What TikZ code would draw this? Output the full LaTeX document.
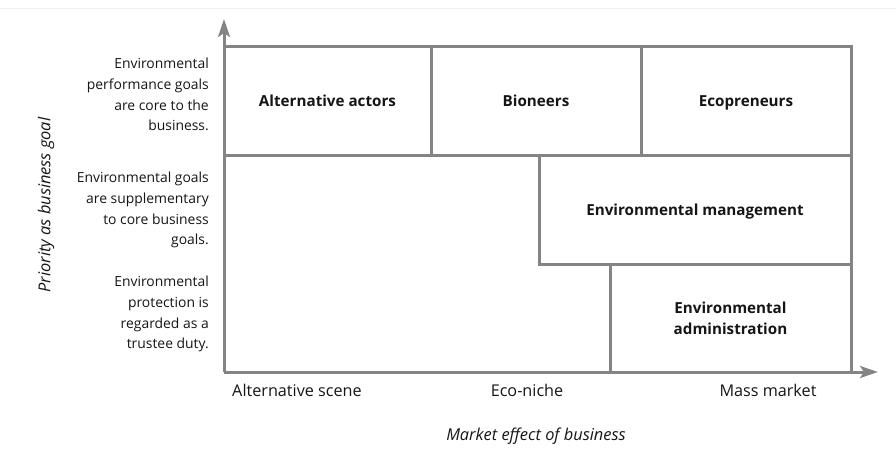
\documentclass[tikz,border=0pt]{standalone}
\usepackage{fontspec}
\setmainfont{Open Sans}
\usetikzlibrary{arrows.meta}
\definecolor{linegray}{HTML}{848484}
\definecolor{txt}{HTML}{151515}
\begin{document}
\begin{tikzpicture}[x=1pt,y=-1pt,
  box/.style={draw=linegray, line width=3pt, inner sep=0pt, font=\fontsize{15.2}{21.5}\selectfont\bfseries, text=txt, align=center, text depth=0pt},
  oneline/.style={text height=10pt, text depth=0pt},
  axis/.style={draw=linegray, line width=3pt, -{Stealth[length=18pt,width=12pt,inset=4pt]}},
  side/.style={font=\fontsize{13.9}{20.8}\selectfont, text=txt, align=right, anchor=east, inner sep=0pt},
  tick/.style={font=\fontsize{16.2}{20}\selectfont, text=txt, inner sep=0pt},
  title/.style={font=\fontsize{16.4}{20}\selectfont\itshape, text=txt, inner sep=0pt}]
\useasboundingbox (0,0) rectangle (896,449);
\coordinate (bl) at (0,8);
\coordinate (br) at (896,8);
\draw[black!6, line width=0.8pt] (bl) -- (br);
% boxes
\node[box, oneline, minimum width=207pt, minimum height=109pt] (aa) at (327.5,101.5) {Alternative actors};
\node[box, oneline, minimum width=210pt, minimum height=109pt] (bio) at (536,101.5) {Bioneers};
\node[box, oneline, minimum width=210pt, minimum height=109pt] (eco) at (746,101.5) {Ecopreneurs};
\node[box, oneline, minimum width=312pt, minimum height=108pt] (em) at (695,210) {Environmental management};
\node[box, minimum width=241pt, minimum height=108pt] (ea) at (730.5,318) {Environmental\\administration};
% axes
\coordinate (O) at (224,372);
\coordinate (ytip) at (224,19);
\coordinate (xtip) at (878,372);
\draw[axis] (O) -- (ytip);
\draw[axis] (O) -- (xtip);
% side labels
\node[side] (s1) at (209,94.5) {Environmental\\performance goals\\are core to the\\business.};
\node[side] (s2) at (209,210) {Environmental goals\\are supplementary\\to core business\\goals.};
\node[side] (s3) at (209,314) {Environmental\\protection is\\regarded as a\\trustee duty.};
\node[title, rotate=90] (ylab) at (46,205) {Priority as business goal};
% x labels
\node[tick] (x1) at (297,390) {Alternative scene};
\node[tick] (x2) at (527,390) {Eco-niche};
\node[tick] (x3) at (768,390) {Mass market};
\node[title] (xlab) at (536,436) {Market effect of business};
\end{tikzpicture}
\end{document}
